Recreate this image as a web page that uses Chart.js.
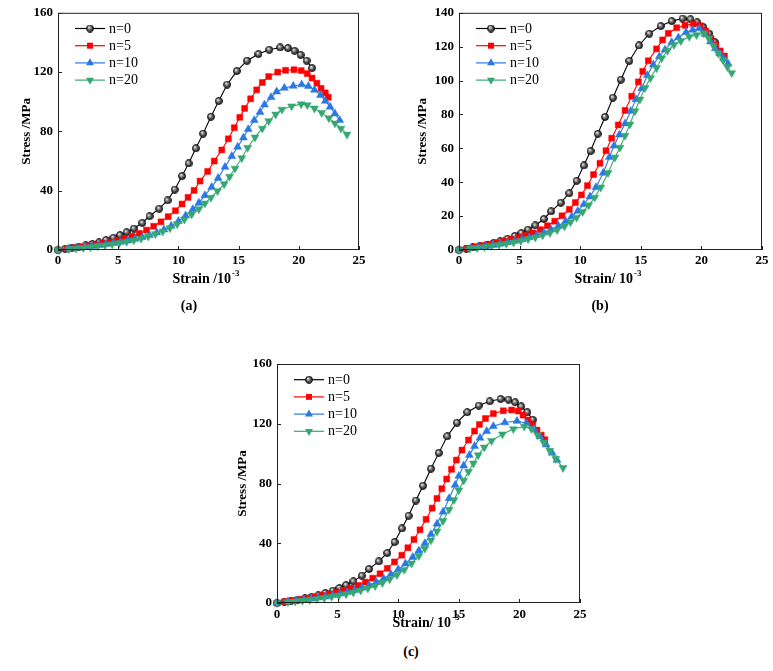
<!DOCTYPE html>
<html>
<head>
<meta charset="utf-8">
<script src="https://cdn.jsdelivr.net/npm/chart.js@4.4.1/dist/chart.umd.min.js"></script>
<style>
  body { margin: 0; background: #fff; }
  #page { position: relative; width: 773px; height: 671px; background: #fff; overflow: hidden; }
  canvas { position: absolute; }
  .tag { position: absolute; font: bold 14px "Liberation Serif", serif; transform: translate(-50%, -50%); color: #000; }
</style>
</head>
<body>
<div id="page">
  <canvas id="chartA" width="375" height="300" style="left:0;top:0"></canvas>
  <canvas id="chartB" width="388" height="300" style="left:385px;top:0"></canvas>
  <canvas id="chartC" width="380" height="290" style="left:220px;top:350px"></canvas>
  <div class="tag" style="left:189px;top:306px">(a)</div>
  <div class="tag" style="left:600px;top:306px">(b)</div>
  <div class="tag" style="left:411px;top:652px">(c)</div>
</div>
<script>
// series labels and colours
const seriesLabels = ["n=0", "n=5", "n=10", "n=20"];
const seriesColors = ["#000000", "#ff0000", "#2a78e4", "#35a872"];

// tick values
const xTicks = [0, 5, 10, 15, 20, 25];
const yTicksA = [0, 40, 80, 120, 160];
const yTicksB = [0, 20, 40, 60, 80, 100, 120, 140];
const yTicksC = [0, 40, 80, 120, 160];

// n=0 (same curve in all three panels)
const strainN0 = [0, 0.6, 1.15, 1.7, 2.3, 2.85, 3.4, 4.0, 4.6, 5.15, 5.7, 6.3, 7.0, 7.6, 8.4, 9.1, 9.7, 10.3, 10.85, 11.45, 12.05, 12.7, 13.35, 14.05, 14.85, 15.7, 16.65, 17.55, 18.45, 19.1, 19.65, 20.15, 20.65, 21.1];
const stressN0 = [0, 0.8, 1.5, 2.3, 3.2, 4.1, 5.1, 6.7, 8.3, 10, 12, 14.5, 18.3, 22.8, 27.9, 33.5, 40.8, 49.9, 58.4, 68.6, 78.5, 89.9, 100.5, 111.6, 120.7, 127.7, 132.2, 135.1, 136.6, 136.2, 134.4, 131.6, 127.7, 122.7];

// panel (a)
const strainA5 = [0, 0.75, 1.35, 1.95, 2.55, 3.15, 3.75, 4.35, 4.95, 5.55, 6.15, 6.75, 7.35, 7.95, 8.55, 9.15, 9.75, 10.3, 10.8, 11.3, 11.8, 12.43, 12.98, 13.6, 14.15, 14.64, 15.1, 15.5, 16.0, 16.5, 16.97, 17.5, 18.25, 18.9, 19.6, 20.2, 20.7, 21.1, 21.5, 21.85, 22.2, 22.45];
const stressA5 = [0, 0.9, 1.5, 2.1, 2.8, 3.6, 4.4, 5.3, 6.4, 7.7, 9.3, 11.2, 13.4, 16, 19, 22.5, 26.5, 31, 35.5, 40.2, 46.5, 53, 60, 67.5, 75, 82.5, 89.5, 95.5, 102, 108, 113, 117, 120, 121.2, 121.6, 121, 119, 116, 112.5, 109, 106, 103];
const strainA10 = [0, 0.9, 1.6, 2.2, 2.8, 3.4, 4.0, 4.6, 5.2, 5.8, 6.4, 7.0, 7.6, 8.2, 8.8, 9.4, 10.0, 10.6, 11.2, 11.7, 12.2, 12.76, 13.3, 13.87, 14.43, 14.92, 15.4, 15.8, 16.3, 16.78, 17.15, 17.7, 18.16, 18.8, 19.54, 20.24, 20.8, 21.3, 21.8, 22.2, 22.6, 23.0, 23.4];
const stressA10 = [0, 1.0, 1.5, 2.0, 2.6, 3.2, 3.9, 4.6, 5.4, 6.3, 7.4, 8.6, 10.0, 11.7, 13.7, 16.3, 19.5, 23.2, 27.5, 31.8, 36.8, 42.4, 48.5, 56, 63.3, 69.5, 75.8, 81.4, 87.5, 93, 98, 103, 106.8, 109.3, 110.6, 111.6, 110.5, 108, 104.5, 100.5, 96.5, 92, 87.5];
const strainA20 = [0, 0.9, 1.5, 2.1, 2.7, 3.3, 3.9, 4.5, 5.1, 5.7, 6.3, 6.9, 7.5, 8.1, 8.7, 9.3, 9.9, 10.5, 11.1, 11.7, 12.2, 12.7, 13.25, 13.8, 14.25, 14.7, 15.26, 15.75, 16.36, 16.97, 17.5, 18.08, 18.6, 19.4, 20.2, 20.7, 21.3, 21.9, 22.5, 23.0, 23.5, 24.0];
const stressA20 = [0, 0.6, 1.0, 1.5, 2.0, 2.6, 3.2, 3.9, 4.7, 5.6, 6.6, 7.8, 9.2, 10.8, 12.6, 14.8, 17.5, 20.6, 24, 27.6, 31.5, 35.3, 39.8, 44.5, 49.5, 55, 62, 69, 76, 82, 87, 91.5, 94.8, 97, 98.4, 97.8, 95.5, 92.5, 89, 85.5, 82, 78];

// panel (b)
const strainB5 = [0, 0.7, 1.3, 1.9, 2.5, 3.1, 3.7, 4.3, 4.9, 5.5, 6.1, 6.7, 7.3, 7.9, 8.5, 9.1, 9.6, 10.1, 10.6, 11.1, 11.63, 12.13, 12.6, 13.14, 13.7, 14.25, 14.8, 15.16, 15.62, 16.3, 16.8, 17.27, 17.96, 18.65, 19.33, 19.9, 20.35, 20.8, 21.2, 21.55, 21.9];
const stressB5 = [0, 1.0, 1.8, 2.6, 3.4, 4.3, 5.2, 6.2, 7.3, 8.6, 10.1, 12.0, 14.3, 17.0, 20.2, 24, 28, 32.5, 38, 44.5, 51.2, 58.6, 66, 73.8, 82.4, 90.8, 99.2, 105.4, 111.7, 118.7, 124, 127.9, 131.2, 132.6, 133.4, 132.4, 129.3, 124.8, 120.8, 117.5, 114.5];
const strainB10 = [0, 1.0, 1.6, 2.2, 2.8, 3.4, 4.0, 4.6, 5.2, 5.8, 6.4, 7.0, 7.6, 8.2, 8.8, 9.3, 9.8, 10.3, 10.8, 11.3, 11.9, 12.4, 12.79, 13.23, 13.7, 14.17, 14.6, 15.07, 15.54, 16.03, 16.53, 17.0, 17.55, 18.1, 18.73, 19.28, 19.83, 20.3, 20.75, 21.15, 21.5, 21.85, 22.2];
const stressB10 = [0, 1.2, 1.7, 2.3, 2.9, 3.6, 4.4, 5.3, 6.3, 7.4, 8.7, 10.2, 12.0, 14.2, 17.0, 19.8, 23, 27, 31.5, 37, 45.5, 54.7, 61.5, 68, 74.6, 82, 88.9, 95.3, 103.1, 109.4, 114.2, 118.2, 122.6, 125.4, 128.5, 129.9, 130.8, 127.5, 123, 119, 116, 113, 110];
const strainB20 = [0, 0.9, 1.5, 2.1, 2.7, 3.3, 3.9, 4.5, 5.1, 5.7, 6.3, 6.9, 7.5, 8.1, 8.7, 9.2, 9.7, 10.2, 10.7, 11.2, 11.7, 12.3, 12.87, 13.28, 13.7, 14.1, 14.52, 14.93, 15.35, 15.8, 16.3, 16.72, 17.2, 17.74, 18.3, 19.0, 19.6, 20.2, 20.6, 21.0, 21.4, 21.8, 22.15, 22.5];
const stressB20 = [0, 0.8, 1.3, 1.8, 2.4, 3.0, 3.7, 4.5, 5.4, 6.4, 7.5, 8.7, 10.1, 11.8, 14, 16.5, 19.2, 22.5, 26.5, 31, 37, 45.5, 54.7, 60.5, 67.5, 74.2, 82, 88.9, 95.7, 101.5, 107.4, 113.2, 117.6, 121.1, 123.4, 125.9, 126.9, 127.9, 125, 120.5, 116, 112, 108, 104.5];

// panel (c)
const strainC5 = [0, 0.7, 1.3, 1.9, 2.5, 3.1, 3.7, 4.3, 4.9, 5.5, 6.1, 6.7, 7.3, 7.9, 8.5, 9.1, 9.7, 10.3, 10.8, 11.3, 11.8, 12.3, 12.8, 13.2, 13.6, 14.0, 14.4, 14.8, 15.26, 15.8, 16.3, 16.7, 17.2, 17.85, 18.67, 19.36, 19.9, 20.3, 20.7, 21.1, 21.45, 21.8, 22.1];
const stressC5 = [0, 0.9, 1.6, 2.4, 3.2, 4.0, 5.0, 6.0, 7.2, 8.5, 10.0, 11.8, 14.0, 16.6, 19.6, 23.2, 27.5, 32, 37, 42.5, 49, 56, 63.5, 70, 76.5, 83, 89.5, 95.7, 102.4, 109.1, 115.1, 119.5, 123.5, 126.8, 128.7, 129.2, 128.5, 125.8, 122.5, 119.1, 115.8, 112.4, 109.3];
const strainC10 = [0, 0.9, 1.6, 2.2, 2.8, 3.4, 4.0, 4.6, 5.2, 5.8, 6.4, 7.0, 7.6, 8.2, 8.8, 9.4, 10.0, 10.6, 11.2, 11.7, 12.2, 12.7, 13.2, 13.7, 14.2, 14.7, 15.0, 15.4, 15.87, 16.3, 16.75, 17.3, 17.85, 18.8, 19.8, 20.6, 21.2, 21.7, 22.2, 22.7, 23.1];
const stressC10 = [0, 1.0, 1.6, 2.2, 2.8, 3.5, 4.3, 5.2, 6.2, 7.3, 8.6, 10.1, 11.9, 14.0, 16.4, 19.2, 22.5, 26.3, 30.7, 35, 40, 46, 53, 61, 70, 79, 85, 92, 99, 105, 110.5, 115, 118.3, 120.8, 121.8, 120.3, 116.5, 111.5, 106, 100.5, 95.7];
const strainC20 = [0, 0.9, 1.5, 2.1, 2.7, 3.3, 3.9, 4.5, 5.1, 5.7, 6.3, 6.9, 7.5, 8.1, 8.7, 9.3, 9.9, 10.5, 11.1, 11.7, 12.2, 12.7, 13.2, 13.7, 14.2, 14.6, 15.0, 15.4, 15.8, 16.2, 16.6, 17.1, 17.7, 18.6, 19.5, 20.4, 21.0, 21.5, 22.0, 22.5, 23.0, 23.6];
const stressC20 = [0, 0.7, 1.1, 1.6, 2.1, 2.7, 3.4, 4.2, 5.0, 6.0, 7.1, 8.4, 9.8, 11.5, 13.5, 15.9, 18.8, 22.3, 26.5, 31.5, 36.5, 42, 48, 55, 62.5, 69, 75.5, 82, 88, 93.5, 99, 104.2, 108.6, 113, 116.5, 118.2, 116.5, 112.5, 107.5, 102, 96.5, 90.5];

Chart.defaults.font.family = '"Liberation Serif", "Times New Roman", serif';
Chart.defaults.color = "#000";

// shaded ball used for the n=0 markers
function makeBall(d) {
  const c = document.createElement("canvas");
  c.width = c.height = d;
  const g = c.getContext("2d");
  const grad = g.createRadialGradient(d * 0.36, d * 0.34, 0.3, d / 2, d / 2, d / 2);
  grad.addColorStop(0, "#f0f0f0");
  grad.addColorStop(0.45, "#6a6a6a");
  grad.addColorStop(1, "#111");
  g.fillStyle = grad;
  g.beginPath();
  g.arc(d / 2, d / 2, d / 2 - 0.5, 0, Math.PI * 2);
  g.fill();
  g.strokeStyle = "#000";
  g.lineWidth = 0.8;
  g.stroke();
  return c;
}
const ball = makeBall(8);

const markerStyles = [
  { pointStyle: ball, pointRadius: 4, pointRotation: 0 },
  { pointStyle: "rect", pointRadius: 4.2, pointRotation: 0 },
  { pointStyle: "triangle", pointRadius: 4.6, pointRotation: 0 },
  { pointStyle: "triangle", pointRadius: 4.6, pointRotation: 180 },
];

function drawMarker(ctx, i, x, y) {
  if (i === 0) {
    ctx.drawImage(ball, x - ball.width / 2, y - ball.height / 2);
    return;
  }
  ctx.fillStyle = seriesColors[i];
  ctx.beginPath();
  if (i === 1) {
    const s = 4.2 * Math.SQRT1_2;
    ctx.rect(x - s, y - s, 2 * s, 2 * s);
  } else {
    const r = 4.6, d = i === 2 ? -1 : 1;
    ctx.moveTo(x, y + d * r);
    ctx.lineTo(x + r * 0.866, y - d * r * 0.5);
    ctx.lineTo(x - r * 0.866, y - d * r * 0.5);
    ctx.closePath();
  }
  ctx.fill();
}

// frame, inward ticks, axis titles and legend
const decoPlugin = {
  id: "deco",
  afterDraw(chart, args, o) {
    const { ctx, chartArea: a, scales } = chart;
    ctx.save();
    ctx.strokeStyle = "#222";
    ctx.lineWidth = 1;
    ctx.strokeRect(a.left + 0.5, a.top + 0.5, a.right - a.left - 1, a.bottom - a.top - 1);

    ctx.beginPath();
    scales.x.ticks.forEach((t) => {
      const px = Math.round(scales.x.getPixelForValue(t.value)) + 0.5;
      ctx.moveTo(px, a.bottom);
      ctx.lineTo(px, a.bottom - 4);
    });
    scales.y.ticks.forEach((t) => {
      const py = Math.round(scales.y.getPixelForValue(t.value)) + 0.5;
      ctx.moveTo(a.left, py);
      ctx.lineTo(a.left + 4, py);
    });
    ctx.stroke();

    // y title
    ctx.fillStyle = "#000";
    ctx.font = 'bold 13px "Liberation Serif"';
    ctx.textAlign = "center";
    ctx.textBaseline = "middle";
    ctx.save();
    ctx.translate(a.left - o.yTitleOff, (a.top + a.bottom) / 2);
    ctx.rotate(-Math.PI / 2);
    ctx.fillText("Stress /MPa", 0, 0);
    ctx.restore();

    // x title with superscript
    ctx.textAlign = "left";
    ctx.textBaseline = "alphabetic";
    ctx.font = 'bold 14px "Liberation Serif"';
    const w1 = ctx.measureText(o.xTitle).width;
    ctx.font = 'bold 9px "Liberation Serif"';
    const w2 = ctx.measureText("-3").width;
    const x0 = (a.left + a.right) / 2 - 3 - (w1 + w2) / 2;
    const yb = a.bottom + o.xTitleY;
    ctx.font = 'bold 14px "Liberation Serif"';
    ctx.fillText(o.xTitle, x0, yb);
    ctx.font = 'bold 9px "Liberation Serif"';
    ctx.fillText("-3", x0 + w1 + 1, yb - 7);

    // legend
    chart.data.datasets.forEach((ds, i) => {
      const y = a.top + 15.7 + i * 17.2;
      const x1 = a.left + 17, x2 = a.left + 47;
      ctx.strokeStyle = seriesColors[i];
      ctx.lineWidth = 1.2;
      ctx.beginPath();
      ctx.moveTo(x1, y);
      ctx.lineTo(x2, y);
      ctx.stroke();
      drawMarker(ctx, i, (x1 + x2) / 2, y);
      ctx.fillStyle = "#000";
      ctx.font = '14px "Liberation Serif"';
      ctx.textBaseline = "middle";
      ctx.fillText(ds.label, x2 + 4, y + 0.5);
    });
    ctx.restore();
  },
};

function makePanel(id, series, p) {
  const datasets = series.map((s, i) => ({
    label: seriesLabels[i],
    data: s[0].map((x, k) => ({ x: x, y: s[1][k] })),
    showLine: true,
    borderColor: seriesColors[i],
    backgroundColor: seriesColors[i],
    borderWidth: 1.1,
    pointBorderWidth: 0.5,
    pointStyle: markerStyles[i].pointStyle,
    pointRadius: markerStyles[i].pointRadius,
    pointRotation: markerStyles[i].pointRotation,
    tension: 0,
    clip: false,
    order: 3 - i,
  }));

  new Chart(document.getElementById(id), {
    type: "scatter",
    data: { datasets: datasets },
    options: {
      responsive: false,
      animation: false,
      events: [],
      layout: { padding: { top: p.padTop, right: p.padRight, left: 0, bottom: 0 } },
      scales: {
        x: {
          type: "linear",
          min: 0,
          max: 25,
          afterBuildTicks: (s) => { s.ticks = xTicks.map((v) => ({ value: v })); },
          afterFit: (s) => { s.height = p.xHeight; },
          grid: { display: false, drawTicks: false },
          border: { display: false },
          ticks: { color: "#000", font: { size: 13, weight: "bold" }, padding: p.xPad, maxRotation: 0 },
        },
        y: {
          type: "linear",
          min: 0,
          max: p.yMax,
          afterBuildTicks: (s) => { s.ticks = p.yTicks.map((v) => ({ value: v })); },
          afterFit: (s) => { s.width = p.yWidth; },
          grid: { display: false, drawTicks: false },
          border: { display: false },
          ticks: { color: "#000", font: { size: 13, weight: "bold" }, padding: 5 },
        },
      },
      plugins: {
        legend: { display: false },
        tooltip: { enabled: false },
        deco: { xTitle: p.xTitle, xTitleY: p.xTitleY, yTitleOff: p.yTitleOff },
      },
    },
    plugins: [decoPlugin],
  });
}

makePanel("chartA", [[strainN0, stressN0], [strainA5, stressA5], [strainA10, stressA10], [strainA20, stressA20]], {
  padTop: 11, padRight: 16, yWidth: 58, xHeight: 50, xPad: 3, yMax: 160, yTicks: yTicksA,
  xTitle: "Strain /10", xTitleY: 33, yTitleOff: 31,
});
makePanel("chartB", [[strainN0, stressN0], [strainB5, stressB5], [strainB10, stressB10], [strainB20, stressB20]], {
  padTop: 11, padRight: 11, yWidth: 74, xHeight: 50, xPad: 3, yMax: 140, yTicks: yTicksB,
  xTitle: "Strain/ 10", xTitleY: 33, yTitleOff: 36,
});
makePanel("chartC", [[strainN0, stressN0], [strainC5, stressC5], [strainC10, stressC10], [strainC20, stressC20]], {
  padTop: 14, padRight: 20, yWidth: 57, xHeight: 37, xPad: 4, yMax: 160, yTicks: yTicksC,
  xTitle: "Strain/ 10", xTitleY: 24, yTitleOff: 34,
});
</script>
</body>
</html>
